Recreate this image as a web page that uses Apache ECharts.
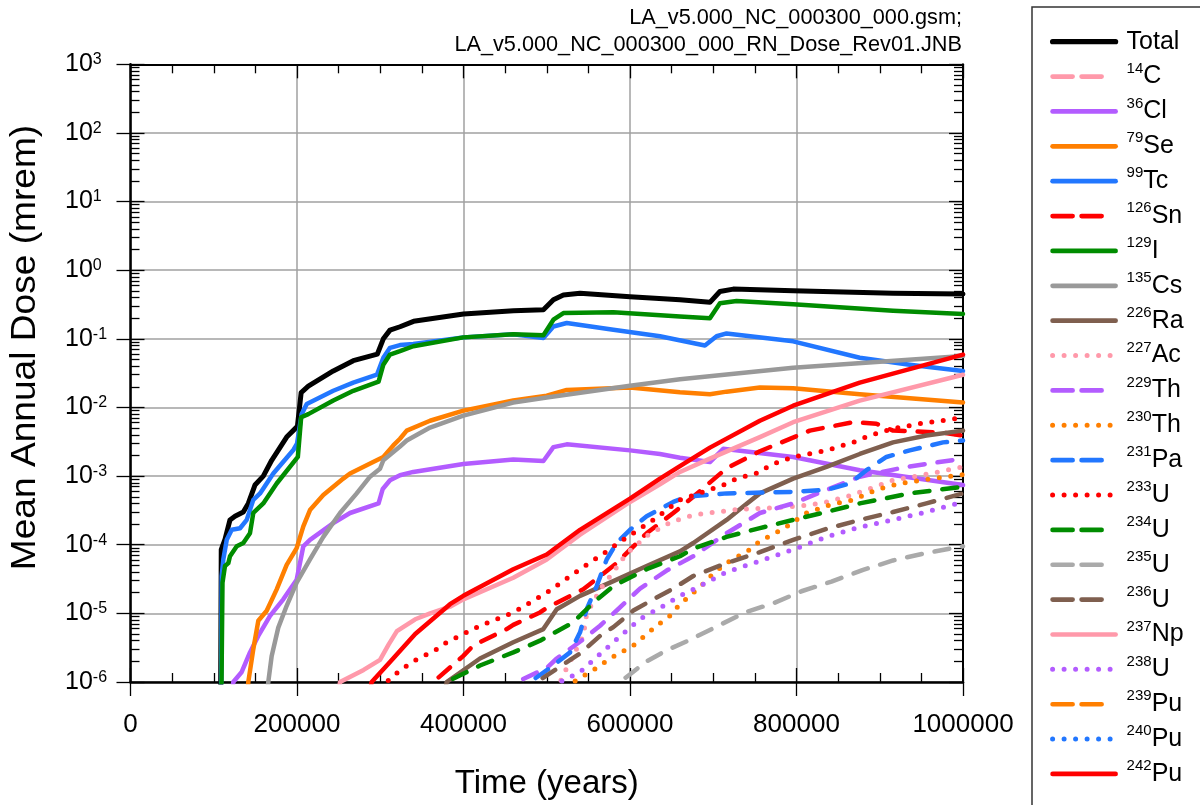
<!DOCTYPE html>
<html>
<head>
<meta charset="utf-8">
<script src="https://cdn.jsdelivr.net/npm/echarts@6/dist/echarts.min.js"></script>
<style>
  html, body { margin: 0; padding: 0; background: #fff; }
  #chart { width: 1200px; height: 805px; }
</style>
</head>
<body>
<div id="chart"></div>
<script>
const FONT = "'Liberation Sans', Arial, Helvetica, sans-serif";

// Mean annual dose per radionuclide: [time (years), dose (mrem)]
const total = [[108000,1e-7],[109000,8.5e-5],[113500,1.2e-4],[119500,2.3e-4],[125500,2.6e-4],[135500,3.0e-4],[141500,4.0e-4],[149500,7.4e-4],[159500,1.0e-3],[169600,1.7e-3],[187600,3.7e-3],[200500,5.3e-3],[205000,0.0165],[213600,0.0204],[243600,0.034],[267600,0.048],[296500,0.06],[303700,0.10],[311700,0.134],[323700,0.15],[340000,0.18],[400000,0.23],[460000,0.256],[496000,0.265],[508000,0.37],[520000,0.435],[540000,0.46],[600000,0.41],[660000,0.37],[696000,0.34],[708000,0.49],[724000,0.53],[796000,0.50],[916000,0.46],[1000000,0.45]];
const c14 = [];
const cl36 = [[121000,5e-7],[123500,1e-6],[133600,1.4e-6],[143500,2.7e-6],[153500,4.7e-6],[167600,9.2e-6],[183500,1.6e-5],[199600,3.1e-5],[207600,9.5e-5],[215600,1.18e-4],[243600,2.06e-4],[263700,2.9e-4],[298000,4.0e-4],[303000,6.5e-4],[311700,8.7e-4],[323700,1.03e-3],[339700,1.15e-3],[399800,1.5e-3],[459800,1.75e-3],[496000,1.66e-3],[508000,2.64e-3],[524000,2.9e-3],[600000,2.37e-3],[636000,2.1e-3],[660000,1.85e-3],[696000,1.6e-3],[712000,2.5e-3],[796000,1.9e-3],[876000,1.22e-3],[1000000,7.4e-4]];
const se79 = [[140000,5e-7],[141500,1e-6],[147500,3.0e-6],[153500,7.8e-6],[163600,1.09e-5],[175600,2.24e-5],[187600,5.1e-5],[199600,8.9e-5],[207600,1.85e-4],[215600,3.2e-4],[231600,5.3e-4],[255600,9.2e-4],[263700,1.09e-3],[295700,1.7e-3],[303700,1.9e-3],[315700,2.8e-3],[323700,3.5e-3],[331800,4.6e-3],[359800,6.4e-3],[399800,9.0e-3],[459800,0.0126],[500000,0.0148],[524000,0.018],[600000,0.0195],[660000,0.0166],[696000,0.0156],[716000,0.017],[756000,0.0195],[796000,0.019],[876000,0.0156],[1000000,0.0118]];
const tc99 = [[108500,1e-7],[109500,3.5e-5],[111500,6.1e-5],[115600,1.18e-4],[121600,1.65e-4],[131600,1.74e-4],[139600,2.3e-4],[147500,4.5e-4],[155600,5.6e-4],[171500,1.09e-3],[195600,2.4e-3],[200000,2.96e-3],[205600,8.0e-3],[211700,0.0112],[243600,0.0175],[267600,0.023],[296000,0.030],[303700,0.053],[311700,0.074],[323700,0.081],[339700,0.084],[399800,0.105],[459800,0.117],[496000,0.103],[508000,0.151],[524000,0.17],[580000,0.136],[636000,0.109],[690000,0.08],[704000,0.109],[716000,0.12],[796000,0.092],[876000,0.053],[936000,0.042],[1000000,0.034]];
const sn126 = [[360000,5e-7],[363700,1e-6],[399800,2.4e-6],[411800,3.4e-6],[451900,5.9e-6],[459800,6.8e-6],[491900,1.03e-5],[500000,1.2e-5],[543900,2.24e-5],[584000,5.4e-5],[620000,1.47e-4],[652000,2.9e-4],[676000,5.0e-4],[716000,1.3e-3],[756000,2.3e-3],[816000,4.6e-3],[868000,6.1e-3],[896000,5.8e-3],[916000,4.6e-3],[976000,4.3e-3],[1000000,3.9e-3]];
const i129 = [[108500,1e-7],[110500,2.8e-5],[113500,4.9e-5],[117500,5.4e-5],[119500,6.8e-5],[127600,9.5e-5],[135500,1.06e-4],[143500,1.47e-4],[147500,2.9e-4],[159500,4.0e-4],[175600,7.8e-4],[201000,1.9e-3],[205000,7.2e-3],[213600,8.0e-3],[243600,0.0126],[267600,0.0175],[298000,0.0238],[303700,0.042],[311700,0.059],[323700,0.066],[339700,0.078],[399800,0.105],[459800,0.117],[496000,0.113],[508000,0.19],[520000,0.237],[580000,0.243],[660000,0.212],[696000,0.20],[708000,0.33],[728000,0.356],[796000,0.32],[916000,0.256],[1000000,0.23]];
const cs135 = [[163000,5e-7],[165500,1e-6],[169600,2.4e-6],[177500,6.2e-6],[187600,1.29e-5],[199600,2.8e-5],[215600,6.1e-5],[231600,1.3e-4],[251700,2.9e-4],[271700,5.6e-4],[287700,9.8e-4],[299700,1.28e-3],[303700,1.7e-3],[323700,2.7e-3],[331800,3.3e-3],[359800,5.1e-3],[399800,7.6e-3],[459800,0.0118],[500000,0.014],[600000,0.0207],[660000,0.0257],[796000,0.038],[1000000,0.056]];
const ra226 = [[376000,5e-7],[379800,1e-6],[419800,2.2e-6],[459800,3.8e-6],[495900,5.9e-6],[512000,1.15e-5],[540000,1.8e-5],[580000,2.95e-5],[620000,4.9e-5],[660000,8.0e-5],[676000,1.06e-4],[716000,2.3e-4],[736000,3.6e-4],[756000,5.6e-4],[796000,9.2e-4],[836000,1.36e-3],[876000,2.1e-3],[916000,3.1e-3],[956000,3.9e-3],[1000000,4.6e-3]];
const ac227 = [[512000,5e-7],[516000,1e-6],[524000,1.6e-6],[544000,4.7e-6],[548000,1.0e-5],[566000,2.4e-5],[580000,4.0e-5],[596000,7.5e-5],[622000,1.4e-4],[650000,2.16e-4],[676000,2.7e-4],[704000,3.0e-4],[732000,3.3e-4],[760000,3.4e-4],[796000,3.6e-4],[816000,3.8e-4],[836000,4.2e-4],[860000,5.0e-4],[884000,6.3e-4],[900000,7.4e-4],[916000,8.7e-4],[940000,9.8e-4],[972000,1.16e-3],[1000000,1.36e-3]];
const th229 = [[460000,5e-7],[464000,1e-6],[500000,1.6e-6],[512000,2.2e-6],[544000,4.2e-6],[564000,6.6e-6],[584000,1.1e-5],[612000,2.3e-5],[644000,4.2e-5],[676000,6.8e-5],[716000,1.47e-4],[756000,2.9e-4],[796000,4.0e-4],[836000,6.3e-4],[876000,9.8e-4],[932000,1.36e-3],[1000000,1.8e-3]];
const th230 = [[528000,5e-7],[532000,1e-6],[560000,1.6e-6],[576000,2.2e-6],[604000,3.4e-6],[632000,6.6e-6],[648000,9.2e-6],[660000,1.36e-5],[674000,1.9e-5],[688000,2.7e-5],[700000,3.8e-5],[716000,5.4e-5],[744000,8.5e-5],[756000,1.13e-4],[784000,1.7e-4],[812000,2.9e-4],[840000,3.8e-4],[868000,4.5e-4],[896000,6.3e-4],[924000,7.8e-4],[964000,9.2e-4],[1000000,1.05e-3]];
const pa231 = [[475000,5e-7],[479900,1e-6],[503900,1.6e-6],[528000,2.7e-6],[540000,5.3e-6],[548000,1.15e-5],[560000,2.5e-5],[572000,6.1e-5],[584000,1.06e-4],[600000,1.65e-4],[620000,2.6e-4],[652000,4.2e-4],[668000,5.0e-4],[716000,5.6e-4],[796000,5.9e-4],[836000,6.3e-4],[864000,7.8e-4],[884000,1.22e-3],[908000,1.9e-3],[936000,2.37e-3],[976000,3.1e-3],[1000000,3.3e-3]];
const u233 = [[304000,5e-7],[307700,1e-6],[323700,1.47e-6],[339700,2.0e-6],[367800,3.0e-6],[379800,3.8e-6],[419800,6.6e-6],[459800,1.03e-5],[500000,2.0e-5],[540000,4.4e-5],[572000,8.0e-5],[588000,1.1e-4],[628000,2.3e-4],[660000,4.5e-4],[712000,7.4e-4],[728000,9.2e-4],[756000,1.14e-3],[768000,1.44e-3],[796000,1.9e-3],[836000,2.37e-3],[868000,3.1e-3],[888000,3.9e-3],[916000,4.9e-3],[948000,5.8e-3],[1000000,7.1e-3]];
const u234 = [[376000,5e-7],[379800,1e-6],[419800,1.74e-6],[459800,2.7e-6],[491900,4.0e-6],[531900,7.4e-6],[556000,1.43e-5],[580000,2.5e-5],[620000,4.4e-5],[660000,6.8e-5],[676000,8.8e-5],[716000,1.3e-4],[756000,1.75e-4],[796000,2.3e-4],[836000,3.0e-4],[876000,4.0e-4],[936000,5.6e-4],[1000000,7.0e-4]];
const u235 = [[584000,5e-7],[588000,1e-6],[620000,2.0e-6],[644000,2.9e-6],[670000,4.0e-6],[706000,6.6e-6],[738000,1.03e-5],[774000,1.43e-5],[806000,2.1e-5],[842000,2.9e-5],[880000,4.3e-5],[916000,5.9e-5],[952000,7.4e-5],[1000000,9.5e-5]];
const u236 = [[484000,5e-7],[488000,1e-6],[520000,1.8e-6],[540000,2.6e-6],[564000,4.7e-6],[580000,6.3e-6],[604000,1.1e-5],[628000,1.6e-5],[652000,2.3e-5],[676000,3.5e-5],[716000,5.4e-5],[756000,7.8e-5],[796000,1.18e-4],[836000,1.7e-4],[876000,2.3e-4],[916000,3.0e-4],[956000,4.0e-4],[1000000,5.6e-4]];
const np237 = [[248000,5e-7],[251700,1e-6],[280000,1.5e-6],[299700,2.1e-6],[310000,3.5e-6],[320000,5.5e-6],[342000,8.2e-6],[360000,1.0e-5],[383800,1.25e-5],[399800,1.6e-5],[459800,3.3e-5],[500000,6.1e-5],[540000,1.4e-4],[600000,4.2e-4],[636000,7.6e-4],[660000,1.15e-3],[696000,1.8e-3],[756000,3.7e-3],[796000,6.1e-3],[876000,0.0126],[1000000,0.030]];
const u238 = [[512000,5e-7],[516000,1e-6],[540000,1.4e-6],[580000,3.8e-6],[612000,8.3e-6],[636000,1.2e-5],[660000,1.8e-5],[676000,2.24e-5],[716000,4.0e-5],[756000,5.8e-5],[796000,8.5e-5],[836000,1.3e-4],[876000,1.8e-4],[916000,2.3e-4],[956000,3.0e-4],[1000000,4.2e-4]];
const pu239 = [];
const pu240 = [];
const pu242 = [[285000,5e-7],[289700,1e-6],[311700,1.95e-6],[342000,5.0e-6],[383800,1.36e-5],[399800,1.8e-5],[459800,4.4e-5],[500000,7.2e-5],[540000,1.65e-4],[600000,4.7e-4],[636000,9.2e-4],[660000,1.4e-3],[696000,2.6e-3],[756000,6.4e-3],[796000,0.0106],[876000,0.023],[1000000,0.059]];

// Legend entries, in drawing order
const seriesNames = ['Total','14C','36Cl','79Se','99Tc','126Sn','129I','135Cs','226Ra','227Ac','229Th','230Th','231Pa','233U','234U','235U','236U','237Np','238U','239Pu','240Pu','242Pu'];
const seriesData = [total,c14,cl36,se79,tc99,sn126,i129,cs135,ra226,ac227,th229,th230,pa231,u233,u234,u235,u236,np237,u238,pu239,pu240,pu242];
const seriesColors = ['#000000','#ff99aa','#b35cff','#ff7f00','#2277ff','#ff0000','#008c00','#999999','#7f5f4f','#ff99aa','#b35cff','#ff7f00','#2277ff','#ff0000','#008c00','#aaaaaa','#7f5f4f','#ff99aa','#b35cff','#ff7f00','#2277ff','#ff0000'];
const seriesDash = ['solid','dashed','solid','solid','solid','dashed','solid','solid','solid','dotted','dashed','dotted','dashed','dotted','dashed','dashed','dashed','solid','dotted','dashed','dotted','solid'];

// Axis ticks
const xTickStep = 200000;
const yMin = 1e-6, yMax = 1e3;

// dash patterns: in the plot and in the legend swatches
const DASH = { solid: 'solid', dashed: [15, 13], dotted: [0, 11.5] };
const LEGEND_DASH = { solid: 'solid', dashed: [20, 9, 20, 30], dotted: [0, 11.5] };

function legendLabel(name) {
  if (name === 'Total') return '{t|Total}';
  const m = name.match(/^(\d+)(\D+)$/);
  return '{s|' + m[1] + '}{b|' + m[2] + '}';
}

const series = seriesNames.map((name, i) => ({
  name: name,
  type: 'line',
  data: seriesData[i],
  xAxisIndex: 0,
  yAxisIndex: 0,
  symbol: 'none',
  showSymbol: false,
  silent: true,
  lineStyle: {
    color: seriesColors[i],
    width: seriesDash[i] === 'dotted' ? 5 : (name === 'Total' ? 5 : 4.5),
    type: DASH[seriesDash[i]],
    cap: 'round',
    join: 'round'
  },
  itemStyle: { color: seriesColors[i] }
}));

const legendData = seriesNames.map((name, i) => ({
  name: name,
  itemStyle: { opacity: 0, borderWidth: 0 },
  lineStyle: {
    color: seriesColors[i],
    width: seriesDash[i] === 'dotted' ? 5 : (name === 'Total' ? 5.2 : 4.7),
    type: LEGEND_DASH[seriesDash[i]],
    cap: 'round',
    opacity: 1
  }
}));

const tickStyle = { color: '#000', width: 1.3 };

const option = {
  animation: false,
  backgroundColor: '#fff',
  textStyle: { fontFamily: FONT },
  grid: { left: 130.5, right: 237, top: 64.3, bottom: 118.3, containLabel: false },
  xAxis: [
    {
      type: 'value', position: 'bottom', min: 0, max: 1000000, interval: xTickStep,
      name: 'Time (years)', nameLocation: 'middle', nameGap: 85,
      nameTextStyle: { fontSize: 33, color: '#000', fontFamily: FONT },
      axisLine: { show: true, onZero: false, lineStyle: { color: '#000', width: 2.5 } },
      axisTick: { show: true, inside: false, length: 14, lineStyle: tickStyle },
      axisLabel: { show: true, margin: 30, fontSize: 26, color: '#000', fontFamily: FONT, formatter: v => String(v) },
      splitLine: { show: true, lineStyle: { color: '#a0a0a0', width: 1.5 } },
      minorTick: { show: false }
    },
    {
      type: 'value', position: 'bottom', min: 0, max: 1000000, interval: xTickStep,
      axisLine: { show: false, onZero: false },
      axisTick: { show: true, inside: true, length: 14, lineStyle: tickStyle },
      minorTick: { show: true, splitNumber: 4, length: 9, lineStyle: tickStyle },
      axisLabel: { show: false }, splitLine: { show: false }
    },
    {
      type: 'value', position: 'top', min: 0, max: 1000000, interval: xTickStep,
      axisLine: { show: true, onZero: false, lineStyle: { color: '#000', width: 2 } },
      axisTick: { show: true, inside: true, length: 14, lineStyle: tickStyle },
      minorTick: { show: true, splitNumber: 4, length: 9, lineStyle: tickStyle },
      axisLabel: { show: false }, splitLine: { show: false }
    }
  ],
  yAxis: [
    {
      type: 'log', logBase: 10, position: 'left', min: yMin, max: yMax, splitNumber: 9,
      axisLine: { show: true, onZero: false, lineStyle: { color: '#000', width: 2.5 } },
      axisTick: { show: true, inside: false, length: 14, lineStyle: tickStyle },
      axisLabel: {
        show: true, margin: 65.5, align: 'left', color: '#000', fontFamily: FONT,
        formatter: v => '{b|10}{s|' + Math.round(Math.log10(v)) + '}',
        rich: {
          b: { fontSize: 25, lineHeight: 25, fontFamily: FONT, color: '#000' },
          s: { fontSize: 16, lineHeight: 18, verticalAlign: 'top', fontFamily: FONT, color: '#000' }
        }
      },
      splitLine: { show: true, lineStyle: { color: '#a0a0a0', width: 1.5 } },
      minorTick: { show: false }
    },
    {
      type: 'log', logBase: 10, position: 'left', min: yMin, max: yMax, splitNumber: 9,
      axisLine: { show: false, onZero: false },
      axisTick: { show: true, inside: true, length: 14, lineStyle: tickStyle },
      minorTick: { show: true, splitNumber: 9, length: 9, lineStyle: tickStyle },
      axisLabel: { show: false }, splitLine: { show: false }
    },
    {
      type: 'log', logBase: 10, position: 'right', min: yMin, max: yMax, splitNumber: 9,
      axisLine: { show: true, onZero: false, lineStyle: { color: '#000', width: 2 } },
      axisTick: { show: true, inside: true, length: 14, lineStyle: tickStyle },
      minorTick: { show: true, splitNumber: 9, length: 9, lineStyle: tickStyle },
      axisLabel: { show: false }, splitLine: { show: false }
    }
  ],
  legend: {
    orient: 'vertical', left: 1050, top: 29.2, padding: 0,
    itemWidth: 63, itemHeight: 14, itemGap: 6.87,
    selectedMode: false,
    data: legendData,
    formatter: legendLabel,
    textStyle: {
      color: '#000', fontFamily: FONT, padding: [0, 0, 0, 6],
      rich: {
        t: { fontSize: 25, lineHeight: 22, fontFamily: FONT, color: '#000' },
        s: { fontSize: 15, lineHeight: 20, verticalAlign: 'top', fontFamily: FONT, color: '#000' },
        b: { fontSize: 25, lineHeight: 31, fontFamily: FONT, color: '#000' }
      }
    }
  },
  graphic: [
    { type: 'rect', silent: true, shape: { x: 1032, y: 7, width: 220, height: 830 },
      style: { fill: 'none', stroke: '#333', lineWidth: 1.5 } },
    { type: 'text', silent: true, x: 962, y: 18,
      style: { text: 'LA_v5.000_NC_000300_000.gsm;', align: 'right', verticalAlign: 'middle', font: '21.7px ' + FONT, fill: '#000' } },
    { type: 'text', silent: true, x: 962, y: 45,
      style: { text: 'LA_v5.000_NC_000300_000_RN_Dose_Rev01.JNB', align: 'right', verticalAlign: 'middle', font: '21.7px ' + FONT, fill: '#000' } },
    // vertical axis title
    { type: 'text', silent: true, x: 25, y: 347.5, rotation: Math.PI / 2, scaleX: 1.06,
      style: { text: 'Mean Annual Dose (mrem)', align: 'center', verticalAlign: 'middle', font: '35px ' + FONT, fill: '#000' } }
  ],
  series: series
};

const chart = echarts.init(document.getElementById('chart'), null, { renderer: 'canvas' });
chart.setOption(option);
</script>
</body>
</html>
